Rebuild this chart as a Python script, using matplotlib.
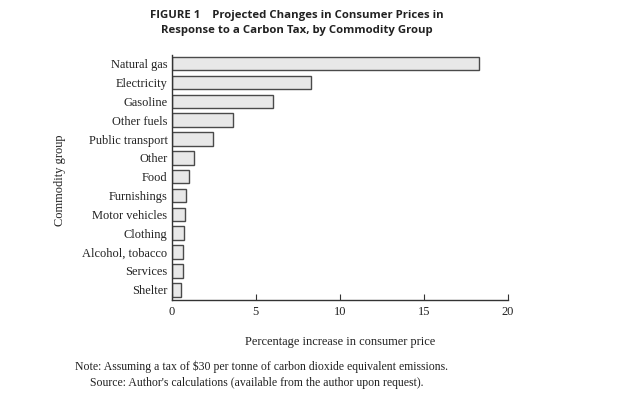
import matplotlib
import matplotlib.pyplot as plt
import numpy as np

matplotlib.use('Agg')

categories = ["Natural gas", "Electricity", "Gasoline", "Other fuels",
              "Public transport", "Other", "Food", "Furnishings",
              "Motor vehicles", "Clothing", "Alcohol, tobacco", "Services",
              "Shelter"]
values = [18.3, 8.3, 6.0, 3.65, 2.45, 1.3, 1.0, 0.87, 0.8, 0.73, 0.68, 0.68, 0.56]
xticks = [0, 5, 10, 15, 20]

serif = "Liberation Serif"

fig = plt.figure(figsize=(6.2, 3.97), dpi=100)
ax = fig.add_axes([0.277, 0.244, 0.542, 0.617])

pos = np.arange(len(categories))[::-1]
ax.barh(pos, values, height=0.72, color="#e8e8e8", edgecolor="#4a4a4a", linewidth=1.0)

ax.set_xlim(0, 20)
ax.set_ylim(-0.55, 12.45)
ax.set_yticks(pos)
ax.set_yticklabels(categories, family=serif, fontsize=8.9, color="#222222")
ax.set_xticks(xticks)
ax.set_xticklabels([str(t) for t in xticks], family=serif, fontsize=8.9, color="#222222")
ax.tick_params(axis="y", length=0, pad=3)
ax.tick_params(axis="x", direction="in", length=4, color="#333333", pad=4)

for s in ["top", "right"]:
    ax.spines[s].set_visible(False)
for s in ["left", "bottom"]:
    ax.spines[s].set_color("#333333")
    ax.spines[s].set_linewidth(1.0)

ax.set_xlabel("Percentage increase in consumer price", family=serif, fontsize=8.9,
              labelpad=13, color="#222222")
fig.text(0.097, 0.545, "Commodity group", family=serif, fontsize=8.9,
         rotation=90, ha="center", va="center", color="#222222")

fig.text(0.478, 0.962, "FIGURE 1    Projected Changes in Consumer Prices in",
         family="Open Sans", weight="bold", fontsize=8.2, ha="center", va="center",
         color="#222222")
fig.text(0.478, 0.922, "Response to a Carbon Tax, by Commodity Group",
         family="Open Sans", weight="bold", fontsize=8.2, ha="center", va="center",
         color="#222222")

fig.text(0.121, 0.075, "Note: Assuming a tax of $30 per tonne of carbon dioxide equivalent emissions.",
         family=serif, fontsize=8.5, ha="left", va="center", color="#222222")
fig.text(0.145, 0.036, "Source: Author's calculations (available from the author upon request).",
         family=serif, fontsize=8.5, ha="left", va="center", color="#222222")

plt.savefig("out.png")
